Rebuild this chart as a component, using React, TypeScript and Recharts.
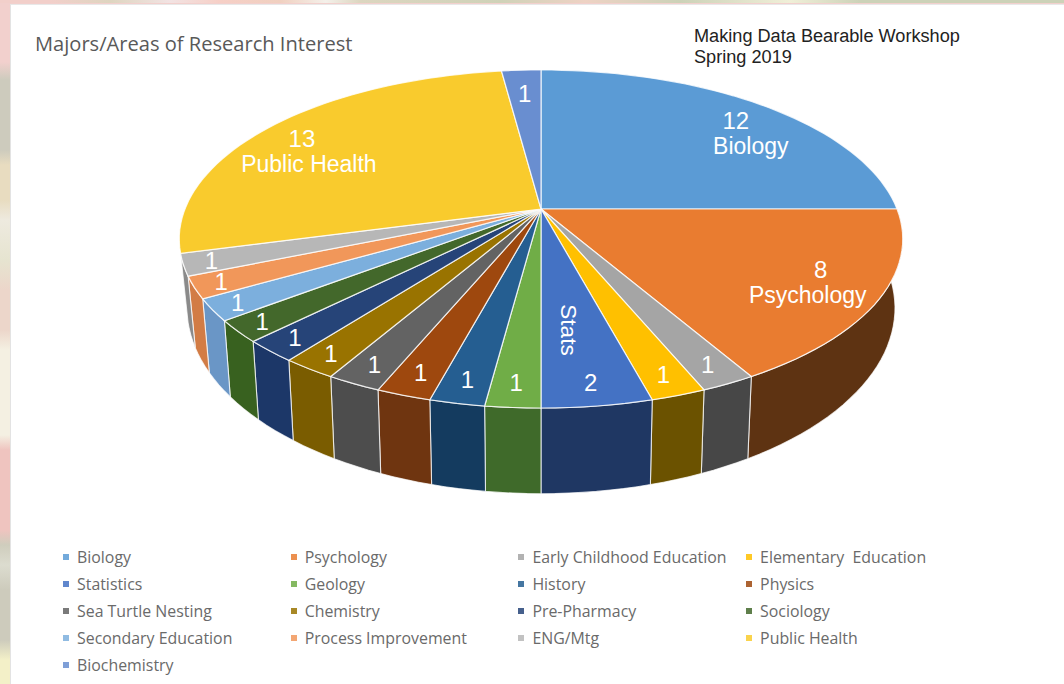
import { PieChart, Pie, Cell, Legend } from "recharts"

const categories = [
  "Biology",
  "Psychology",
  "Early Childhood Education",
  "Elementary  Education",
  "Statistics",
  "Geology",
  "History",
  "Physics",
  "Sea Turtle Nesting",
  "Chemistry",
  "Pre-Pharmacy",
  "Sociology",
  "Secondary Education",
  "Process Improvement",
  "ENG/Mtg",
  "Public Health",
  "Biochemistry",
]
const values = [12, 8, 1, 1, 2, 1, 1, 1, 1, 1, 1, 1, 1, 1, 1, 13, 1]
const sliceNames = ["Biology", "Psychology", "", "", "Stats", "", "", "", "", "", "", "", "", "", "", "Public Health", ""]

const TOP_COLORS = [
  "#5b9bd5", "#e97c30", "#a5a5a5", "#ffc000", "#4472c4", "#70ad47", "#255e91", "#9e480e", "#636363",
  "#997300", "#264478", "#43682b", "#7cafdd", "#f1975a", "#b7b7b7", "#f9cb2d", "#698ed0",
]
const WALL_COLORS = [
  "#34597a", "#5e3312", "#474747", "#6b5200", "#1f3763", "#3f6a2a", "#143b5f", "#6f3510", "#4d4d4d",
  "#7a5c00", "#1c3768", "#38611f", "#6a96c6", "#d27c45", "#8a8a8a", "#8f7419", "#3c5277",
]

// how far along the radius each number sits
const LABEL_REACH = [0.88, 0.88, 0.89, 0.89, 0.88, 0.875, 0.875, 0.875, 0.89, 0.905, 0.908, 0.92, 0.924, 0.923, 0.922, 0.88, 0.83]

const data = categories.map((name, i) => ({ name, value: values[i], label: sliceNames[i] }))

const CX = 541
const CY = 209
const FONT = "'Liberation Sans', Arial, sans-serif"

// perspective of the top face and of the bottom rim of the disc
const TOP_FACE = { y0: 0, a: 356, b: 163.7, p: 0.1775 }
const BOTTOM_FACE = { y0: 65, a: 348, b: 179.5, p: 0.183 }

type Face = typeof TOP_FACE

// recharts angle (degrees, counter clockwise from 3 o'clock) to screen point
function project(face: Face, cx: number, cy: number, angle: number) {
  const t = ((90 - angle) * Math.PI) / 180
  const u = Math.sin(t)
  const v = Math.cos(t)
  const w = 1 + face.p * v
  return { x: cx + (face.a * u) / w, y: cy + face.y0 - (face.b * v) / w }
}

function arc(face: Face, cx: number, cy: number, from: number, to: number) {
  const steps = Math.max(2, Math.ceil(Math.abs(to - from) / 2))
  const pts = []
  for (let i = 0; i <= steps; i++) {
    const p = project(face, cx, cy, from + ((to - from) * i) / steps)
    pts.push(`${p.x.toFixed(1)} ${p.y.toFixed(1)}`)
  }
  return pts
}

function TopSlice(props: any) {
  const { cx, cy, startAngle, endAngle, fill } = props
  const pts = arc(TOP_FACE, cx, cy, startAngle, endAngle)
  return <path d={`M${cx} ${cy} L${pts.join(" L")} Z`} fill={fill} stroke="#fff" strokeOpacity={0.8} strokeWidth={1.2} />
}

function WallSlice(props: any) {
  const { cx, cy, startAngle, endAngle, fill } = props
  // walls on the far half of the disc are hidden behind the top face
  const mid = (startAngle + endAngle) / 2
  if (mid > -15 || mid < -180) return null
  const top = arc(TOP_FACE, cx, cy, startAngle, endAngle)
  const bottom = arc(BOTTOM_FACE, cx, cy, endAngle, startAngle)
  return <path d={`M${top.join(" L")} L${bottom.join(" L")} Z`} fill={fill} stroke="#fff" strokeOpacity={0.75} strokeWidth={1.1} />
}

function SliceLabel(props: any) {
  const { cx, cy, midAngle, value, payload, index } = props
  const rim = project(TOP_FACE, cx, cy, midAngle)
  const reach = LABEL_REACH[index]
  const x = cx + (rim.x - cx) * reach
  const y = cy + (rim.y - cy) * reach
  const name = payload?.label ?? ""
  const common = { fill: "#fff", fontFamily: FONT, textAnchor: "middle" as const, dominantBaseline: "central" as const }
  if (name === "Stats") {
    return (
      <g>
        <text x={x} y={y} fontSize={24} {...common}>{value}</text>
        <text x={568} y={330} fontSize={22.5} transform="rotate(90 568 330)" {...common}>{name}</text>
      </g>
    )
  }
  if (name) {
    const numX = index === 1 ? x - 18 : index === 0 ? x - 2 : x - 2
    const numY = index === 1 ? y - 19 : y + 2
    const nameX = index === 0 ? x + 13 : index === 1 ? x - 31 : x + 5
    return (
      <g>
        <text x={numX} y={numY} fontSize={24} {...common}>{value}</text>
        <text x={nameX} y={numY + 26} fontSize={23} {...common}>{name}</text>
      </g>
    )
  }
  return <text x={x} y={y} fontSize={24} {...common}>{value}</text>
}

function ChartLegend(props: any) {
  const items = (props.payload || []).filter((p: any) => p.type !== "none")
  return (
    <div style={{ position: "relative", width: 1064, height: 140 }}>
      {items.map((item: any, i: number) => (
        <div
          key={item.value}
          style={{
            position: "absolute",
            left: 63 + (i % 4) * 227.7,
            top: Math.floor(i / 4) * 27,
            height: 20,
            lineHeight: "20px",
            whiteSpace: "pre",
            fontFamily: "'Open Sans', sans-serif",
            fontSize: 15.9,
            color: "#6a6a6a",
          }}
        >
          <span style={{ position: "absolute", left: 0, top: 7, width: 6, height: 6, background: item.color, opacity: 0.85 }} />
          <span style={{ marginLeft: 14 }}>{item.value}</span>
        </div>
      ))}
    </div>
  )
}

export default function App() {
  return (
    <div
      style={{
        position: "absolute",
        left: 0,
        top: 0,
        width: 1064,
        height: 684,
        overflow: "hidden",
        background:
          "linear-gradient(180deg, #f2d0cd 0, #f2d0cd 62px, #cdcbbd 80px, #cdcbbd 150px, #e8dcc0 165px, #e8dcc0 200px, #eeeadf 220px, #e6e4d0 260px, #ecd6ca 290px, #ecd6ca 330px, #f4f0e2 350px, #f4f0e2 435px, #efc4bf 450px, #efc4bf 530px, #cfcdbd 545px, #dcdccf 565px, #cdcbbc 590px, #cdcbbc 640px, #f3f0c8 660px, #f3f0c8 684px)",
      }}
    >
      <div
        style={{
          position: "absolute",
          left: 0,
          top: 0,
          width: 1064,
          height: 3,
          background:
            "linear-gradient(90deg, #f2cfca 0, #f2cfca 50px, #ded5c0 110px, #f2e3e3 170px, #f6cfc6 220px, #f0d0c0 280px, #f4f0ea 326px, #dcd6c0 360px, #cfd2b8 500px, #eed2c4 585px, #ccd2b8 680px, #f0efd8 790px, #ccd2b8 860px, #ccd2b8 1064px)",
        }}
      />
      <div style={{ position: "absolute", left: 10, top: 4, width: 1054, height: 680, background: "#fff", borderLeft: "1px solid #e3e3e3", borderTop: "1px solid #e8e8e8", boxSizing: "border-box" }} />
      <div style={{ position: "absolute", left: 35, top: 30, fontFamily: "'Open Sans', sans-serif", fontSize: 20.1, color: "#595959", whiteSpace: "nowrap" }}>
        Majors/Areas of Research Interest
      </div>
      <div style={{ position: "absolute", left: 694, top: 26, fontFamily: FONT, fontSize: 18.15, lineHeight: "21px", color: "#222", whiteSpace: "nowrap" }}>
        Making Data Bearable Workshop
        <br />
        Spring 2019
      </div>
      <div style={{ position: "absolute", left: 0, top: 0 }}>
        <PieChart width={1064} height={684} margin={{ top: 0, right: 0, bottom: 0, left: 0 }}>
          <Pie
            data={data}
            dataKey="value"
            nameKey="name"
            cx={CX}
            cy={CY}
            outerRadius={200}
            startAngle={90}
            endAngle={-270}
            legendType="none"
            shape={WallSlice}
            isAnimationActive={false}
          >
            {data.map((entry, i) => (
              <Cell key={`wall-${entry.name}`} fill={WALL_COLORS[i]} />
            ))}
          </Pie>
          <Pie
            data={data}
            dataKey="value"
            nameKey="name"
            cx={CX}
            cy={CY}
            outerRadius={200}
            startAngle={90}
            endAngle={-270}
            shape={TopSlice}
            label={SliceLabel}
            labelLine={false}
            isAnimationActive={false}
          >
            {data.map((entry, i) => (
              <Cell key={`top-${entry.name}`} fill={TOP_COLORS[i]} />
            ))}
          </Pie>
          <Legend content={ChartLegend} itemSorter={null} wrapperStyle={{ left: 0, top: 547, width: 1064 }} />
        </PieChart>
      </div>
    </div>
  )
}
